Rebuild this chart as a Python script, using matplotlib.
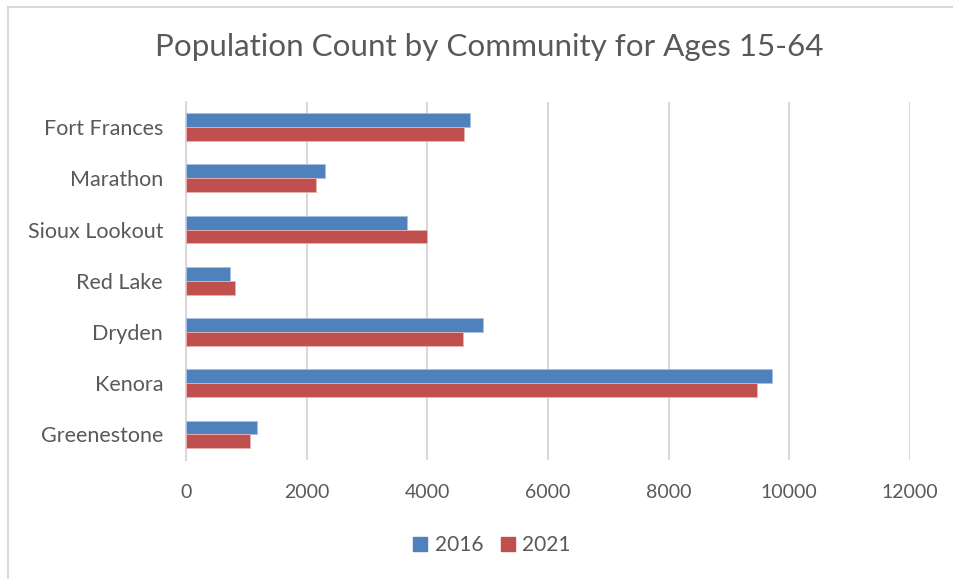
import numpy as np
import matplotlib.pyplot as plt
from matplotlib.patches import Rectangle, Patch

communities = ["Fort Frances", "Marathon", "Sioux Lookout", "Red Lake",
               "Dryden", "Kenora", "Greenestone"]
pop_2016 = [4710, 2310, 3655, 730, 4915, 9715, 1180]
pop_2021 = [4600, 2150, 4000, 805, 4590, 9460, 1060]
x_ticks = [0, 2000, 4000, 6000, 8000, 10000, 12000]

blue = "#4F81BD"
red = "#C0504D"
text_gray = "#595959"
grid_gray = "#D9D9D9"

plt.rcParams["font.family"] = ["Lato", "DejaVu Sans"]

fig = plt.figure(figsize=(9.54, 5.79), dpi=100)
ax = fig.add_axes([186 / 954, 1 - 460 / 579, 724 / 954, 358.5 / 579])

# outer chart border
fig.patches.append(Rectangle((8 / 954, -0.05), 1.2, 1 - 7 / 579 + 0.05,
                             transform=fig.transFigure, fill=False,
                             edgecolor="#D9D9D9", linewidth=1.5))

y = np.arange(len(communities))
h = 0.27
ax.barh(y - h / 2, pop_2016, height=h, color=blue, edgecolor="#A9C1E0",
        linewidth=0.6, label="2016", zorder=3)
ax.barh(y + h / 2, pop_2021, height=h, color=red, edgecolor="#E6B3B2",
        linewidth=0.6, label="2021", zorder=3)

ax.set_ylim(len(communities) - 0.5, -0.5)
ax.set_xlim(0, 12000)
ax.set_yticks(y)
ax.set_yticklabels(communities)
ax.set_xticks(x_ticks)
ax.set_xticklabels([str(t) for t in x_ticks])

ax.grid(axis="x", color=grid_gray, linewidth=1.5, zorder=0)
for s in ["top", "right", "bottom"]:
    ax.spines[s].set_visible(False)
ax.spines["left"].set_color(grid_gray)
ax.spines["left"].set_linewidth(1.5)
ax.tick_params(axis="both", length=0, colors=text_gray)
ax.tick_params(axis="y", pad=16.5, labelsize=15.5)
ax.tick_params(axis="x", pad=17.5, labelsize=14)

fig.text(489 / 954, 1 - 47 / 579, "Population Count by Community for Ages 15-64",
         ha="center", va="center", fontsize=22.6, color=text_gray)

handles = [Patch(color=blue, label="2016"), Patch(color=red, label="2021")]
fig.legend(handles=handles, loc="center", bbox_to_anchor=(492 / 954, 1 - 545 / 579),
           ncol=2, frameon=False, fontsize=15, labelcolor=text_gray,
           handlelength=0.67, handleheight=0.67, handletextpad=0.35,
           columnspacing=0.85)

fig.savefig("out.png", dpi=100)
